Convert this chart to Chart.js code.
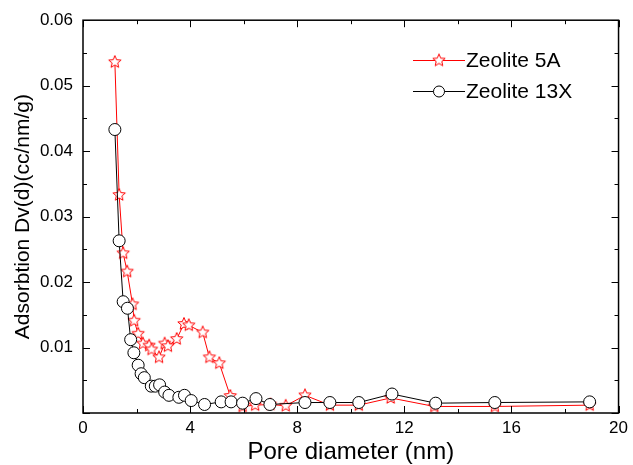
<!DOCTYPE html>
<html>
<head>
<meta charset="utf-8">
<script src="https://cdn.jsdelivr.net/npm/chart.js@4"></script>
<style>
  html, body { margin: 0; padding: 0; background: #fff; }
</style>
</head>
<body>
<canvas id="myChart" width="633" height="465"></canvas>
<script>
// pore diameter (nm) and Dv(d)
const pore5A = [1.19, 1.35, 1.50, 1.65, 1.85, 1.91, 2.06, 2.24, 2.47, 2.56, 2.84, 3.05, 3.17, 3.50, 3.77, 3.95,
  4.47, 4.72, 5.09, 5.50, 5.96, 6.43, 7.00, 7.57, 8.29, 9.22, 10.30, 11.49, 13.12, 15.38, 18.92];
const dv5A = [0.0536, 0.0333, 0.0244, 0.0216, 0.0166, 0.0141, 0.0121, 0.0106, 0.0103, 0.0097, 0.0085, 0.0106,
  0.0102, 0.0113, 0.0136, 0.0134, 0.0123, 0.0085, 0.0076, 0.0026, 0.0010, 0.0012, 0.0013, 0.0011, 0.0027,
  0.0012, 0.0012, 0.0023, 0.0010, 0.0010, 0.0012];

const pore13X = [1.19, 1.35, 1.50, 1.66, 1.78, 1.90, 2.06, 2.17, 2.29, 2.55, 2.70, 2.86, 3.05, 3.21, 3.58, 3.79,
  4.04, 4.54, 5.16, 5.53, 5.96, 6.46, 6.98, 8.29, 9.22, 10.30, 11.54, 13.17, 15.38, 18.92];
const dv13X = [0.0433, 0.0263, 0.0170, 0.0160, 0.0112, 0.0092, 0.0073, 0.0060, 0.0054, 0.0041, 0.0041, 0.0043,
  0.0032, 0.0027, 0.0024, 0.0027, 0.0019, 0.0013, 0.0017, 0.0017, 0.0015, 0.0022, 0.0013, 0.0016, 0.0016,
  0.0016, 0.0029, 0.0015, 0.0016, 0.0017];

const seriesNames = ['Zeolite 5A', 'Zeolite 13X'];
const xTicks = [0, 4, 8, 12, 16, 20];

const FONT = '"Liberation Sans", Arial, sans-serif';

// hollow five point star as marker
function makeStar(r) {
  const c = document.createElement('canvas');
  const s = Math.ceil(r * 2 + 3);
  c.width = s; c.height = s;
  const g = c.getContext('2d');
  g.translate(s / 2, s / 2);
  g.beginPath();
  for (let i = 0; i < 10; i++) {
    const rad = i % 2 === 0 ? r : r * 0.45;
    const a = -Math.PI / 2 + i * Math.PI / 5;
    g.lineTo(rad * Math.cos(a), rad * Math.sin(a));
  }
  g.closePath();
  g.fillStyle = '#fff';
  g.fill();
  g.strokeStyle = '#ff0000';
  g.lineWidth = 1;
  g.stroke();
  return c;
}
const star = makeStar(6.5);

const toPts = (xs, ys) => xs.map((v, i) => ({ x: v, y: ys[i] }));

// frame, inward ticks and legend
const extras = {
  id: 'extras',
  afterDraw(chart) {
    const { ctx, chartArea: a, scales: { x, y } } = chart;
    ctx.save();
    ctx.strokeStyle = '#000';
    ctx.lineWidth = 1;
    const seg = (x1, y1, x2, y2) => { ctx.beginPath(); ctx.moveTo(x1, y1); ctx.lineTo(x2, y2); ctx.stroke(); };
    for (let v = 0; v <= 20; v += 2) {
      const px = Math.round(x.getPixelForValue(v)) + 0.5;
      const len = v % 4 === 0 ? 7 : 4;
      seg(px, a.bottom, px, a.bottom - len);
      seg(px, a.top, px, a.top + len);
    }
    for (let k = 0; k <= 12; k++) {
      const py = Math.round(y.getPixelForValue(k * 0.005)) + 0.5;
      const len = k % 2 === 0 ? 7 : 4;
      seg(a.left, py, a.left + len, py);
      seg(a.right, py, a.right - len, py);
    }
    ctx.lineWidth = 1.5;
    ctx.strokeRect(a.left, a.top, a.right - a.left, a.bottom - a.top);

    // legend
    ctx.font = '21px ' + FONT;
    ctx.textBaseline = 'middle';
    ctx.fillStyle = '#000';
    ctx.lineWidth = 1;
    ctx.strokeStyle = '#ff0000';
    seg(413, 60.5, 465, 60.5);
    ctx.drawImage(star, 439 - star.width / 2, 60.5 - star.height / 2);
    ctx.fillText(seriesNames[0], 466, 61);
    ctx.strokeStyle = '#000';
    seg(413, 91.5, 465, 91.5);
    ctx.beginPath();
    ctx.arc(439, 91.5, 5.5, 0, Math.PI * 2);
    ctx.fillStyle = '#fff';
    ctx.fill();
    ctx.stroke();
    ctx.fillStyle = '#000';
    ctx.fillText(seriesNames[1], 466, 92);
    ctx.restore();
  }
};

const ctx = document.getElementById('myChart');

const myChart = new Chart(ctx, {
  type: 'scatter',
  data: {
    datasets: [{
      label: seriesNames[0],
      data: toPts(pore5A, dv5A),
      showLine: true,
      borderColor: '#ff0000',
      borderWidth: 1,
      pointStyle: star,
      pointRadius: 6,
      order: 2
    }, {
      label: seriesNames[1],
      data: toPts(pore13X, dv13X),
      showLine: true,
      borderColor: '#000',
      borderWidth: 1,
      backgroundColor: '#fff',
      pointStyle: 'circle',
      pointRadius: 6,
      pointBorderWidth: 1,
      order: 1
    }]
  },
  options: {
    responsive: false,
    animation: false,
    devicePixelRatio: 1,
    layout: { padding: { top: 19, right: 12, left: 0, bottom: 0 } },
    plugins: { legend: { display: false }, tooltip: { enabled: false } },
    scales: {
      x: {
        type: 'linear',
        min: 0,
        max: 20,
        afterBuildTicks: (s) => { s.ticks = xTicks.map(v => ({ value: v })); },
        afterFit: (s) => { s.height = 52; },
        grid: { display: false, drawTicks: false },
        border: { display: false },
        ticks: { color: '#000', font: { family: FONT, size: 17 }, padding: 5, maxRotation: 0 },
        title: {
          display: true,
          text: 'Pore diameter (nm)',
          color: '#000',
          font: { family: FONT, size: 24, lineHeight: 1 },
          padding: { top: 0, bottom: 1 }
        }
      },
      y: {
        min: 0,
        max: 0.06,
        afterFit: (s) => { s.width = 83; },
        grid: { display: false, drawTicks: false },
        border: { display: false },
        ticks: {
          stepSize: 0.01,
          color: '#000',
          font: { family: FONT, size: 17 },
          padding: 10,
          callback: (v) => v === 0 ? '' : v.toFixed(2)
        },
        title: {
          display: true,
          text: 'Adsorbtion Dv(d)(cc/nm/g)',
          color: '#000',
          font: { family: FONT, size: 21, lineHeight: 1.2 },
          padding: { top: 11, bottom: 0 }
        }
      }
    }
  },
  plugins: [extras]
});
</script>
</body>
</html>
